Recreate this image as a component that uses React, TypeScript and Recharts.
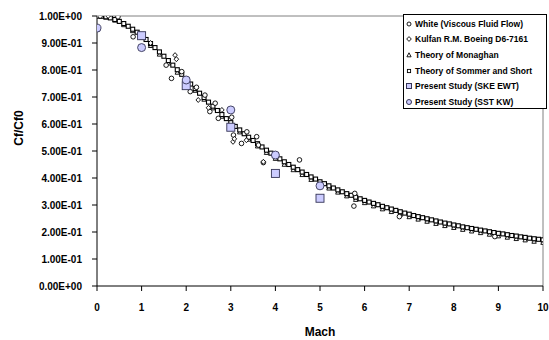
import React from 'react';
import { ScatterChart, Scatter, XAxis, YAxis, ReferenceLine, Legend } from 'recharts';

// Theory of Sommer and Short, every 0.1 Mach from 0 to 10
const sommerMach = [
  0, 0.1, 0.2, 0.3, 0.4, 0.5, 0.6, 0.7, 0.8, 0.9, 1, 1.1, 1.2, 1.3, 1.4, 1.5, 1.6, 1.7, 1.8, 1.9,
  2, 2.1, 2.2, 2.3, 2.4, 2.5, 2.6, 2.7, 2.8, 2.9, 3, 3.1, 3.2, 3.3, 3.4, 3.5, 3.6, 3.7, 3.8, 3.9,
  4, 4.1, 4.2, 4.3, 4.4, 4.5, 4.6, 4.7, 4.8, 4.9, 5, 5.1, 5.2, 5.3, 5.4, 5.5, 5.6, 5.7, 5.8, 5.9,
  6, 6.1, 6.2, 6.3, 6.4, 6.5, 6.6, 6.7, 6.8, 6.9, 7, 7.1, 7.2, 7.3, 7.4, 7.5, 7.6, 7.7, 7.8, 7.9,
  8, 8.1, 8.2, 8.3, 8.4, 8.5, 8.6, 8.7, 8.8, 8.9, 9, 9.1, 9.2, 9.3, 9.4, 9.5, 9.6, 9.7, 9.8, 9.9, 10,
];
const sommerCf = [
  1.0, 0.999, 0.997, 0.993, 0.987, 0.98, 0.972, 0.962, 0.951, 0.94, 0.927, 0.913, 0.898, 0.883, 0.867, 0.851, 0.835, 0.818, 0.801, 0.784,
  0.765, 0.748, 0.731, 0.714, 0.698, 0.681, 0.666, 0.65, 0.635, 0.62, 0.605, 0.591, 0.578, 0.564, 0.551, 0.539, 0.527, 0.515, 0.503, 0.492,
  0.482, 0.471, 0.46, 0.45, 0.44, 0.431, 0.422, 0.413, 0.404, 0.396, 0.386, 0.379, 0.371, 0.363, 0.356, 0.349, 0.342, 0.336, 0.329, 0.323,
  0.317, 0.311, 0.306, 0.301, 0.295, 0.29, 0.285, 0.28, 0.275, 0.27, 0.266, 0.261, 0.257, 0.253, 0.249, 0.245, 0.241, 0.237, 0.233, 0.23,
  0.226, 0.223, 0.219, 0.216, 0.213, 0.21, 0.207, 0.204, 0.201, 0.198, 0.195, 0.193, 0.19, 0.187, 0.185, 0.182, 0.18, 0.177, 0.175, 0.173, 0.171,
];

// Theory of Monaghan, every 0.2 Mach
const monaghanMach = [
  0, 0.2, 0.4, 0.6, 0.8, 1, 1.2, 1.4, 1.6, 1.8, 2, 2.2, 2.4, 2.6, 2.8, 3, 3.2, 3.4, 3.6, 3.8,
  4, 4.2, 4.4, 4.6, 4.8, 5, 5.2, 5.4, 5.6, 5.8, 6, 6.2, 6.4, 6.6, 6.8, 7, 7.2, 7.4, 7.6, 7.8,
  8, 8.2, 8.4, 8.6, 8.8, 9, 9.2, 9.4, 9.6, 9.8, 10,
];
const monaghanCf = [
  1.0, 0.995, 0.984, 0.967, 0.945, 0.92, 0.89, 0.858, 0.825, 0.791, 0.757, 0.724, 0.691, 0.659, 0.628, 0.598, 0.57, 0.543, 0.518, 0.494,
  0.472, 0.45, 0.43, 0.412, 0.394, 0.377, 0.362, 0.347, 0.333, 0.32, 0.308, 0.296, 0.285, 0.275, 0.265, 0.256, 0.247, 0.239, 0.231, 0.223,
  0.216, 0.209, 0.203, 0.197, 0.191, 0.185, 0.18, 0.175, 0.17, 0.165, 0.161,
];

// White (Viscous Fluid Flow)
const whiteMach = [0.07, 0.47, 0.81, 1.55, 1.67, 1.9, 2.09, 2.23, 2.42, 2.53, 2.65, 2.72, 3.02, 3.06, 3.24, 3.36, 3.58, 3.62, 3.73, 4.54, 5.76, 5.78, 6.78, 8.92];
const whiteCf = [1.0, 0.997, 0.923, 0.818, 0.769, 0.794, 0.72, 0.736, 0.707, 0.646, 0.677, 0.621, 0.625, 0.559, 0.528, 0.571, 0.553, 0.522, 0.457, 0.467, 0.296, 0.343, 0.257, 0.183];

// Kulfan R.M. Boeing D6-7161
const kulfanMach = [0.25, 1.2, 1.75, 1.78, 2.27, 2.5, 2.8, 3.05, 3.08, 3.35, 3.73];
const kulfanCf = [1.0, 0.9, 0.855, 0.84, 0.689, 0.66, 0.652, 0.534, 0.545, 0.54, 0.46];

// Present Study (SKE EWT)
const skeMach = [1, 2, 3, 4, 5];
const skeCf = [0.927, 0.742, 0.588, 0.417, 0.325];

// Present Study (SST KW)
const sstMach = [0, 1, 2, 3, 4, 5];
const sstCf = [0.955, 0.883, 0.763, 0.652, 0.485, 0.371];

const xTicks = [0, 1, 2, 3, 4, 5, 6, 7, 8, 9, 10];
const yTicks = [0, 0.1, 0.2, 0.3, 0.4, 0.5, 0.6, 0.7, 0.8, 0.9, 1];

const pairs = (xs: number[], ys: number[]) => xs.map((x, i) => ({ x, y: ys[i] }));

const sommerData = pairs(sommerMach, sommerCf);
const monaghanData = pairs(monaghanMach, monaghanCf);
const whiteData = pairs(whiteMach, whiteCf);
const kulfanData = pairs(kulfanMach, kulfanCf);
const skeData = pairs(skeMach, skeCf);
const sstData = pairs(sstMach, sstCf);

const LAV = '#CCCCFF';
const LAV_EDGE = '#333355';

const fmtSci = (v: number) => {
  if (v === 0) return '0.00E+00';
  if (v >= 1) return v.toFixed(2) + 'E+00';
  return (v * 10).toFixed(2) + 'E-01';
};

const SmallSquare = (p: any) => <rect x={p.cx - 2} y={p.cy - 2} width={4} height={4} fill="#fff" stroke="#000" strokeWidth={1.1} />;
const Tri = (p: any) => <path d={`M${p.cx},${p.cy - 2.4}L${p.cx + 2.2},${p.cy + 1.8}L${p.cx - 2.2},${p.cy + 1.8}Z`} fill="#fff" stroke="#000" strokeWidth={0.9} />;
const OpenCircle = (p: any) => <circle cx={p.cx} cy={p.cy} r={2.3} fill="#fff" stroke="#000" strokeWidth={0.9} />;
const Diamond = (p: any) => <path d={`M${p.cx},${p.cy - 2.5}L${p.cx + 2.3},${p.cy}L${p.cx},${p.cy + 2.5}L${p.cx - 2.3},${p.cy}Z`} fill="#fff" stroke="#000" strokeWidth={0.9} />;
const LavSquare = (p: any) => <rect x={p.cx - 4} y={p.cy - 4} width={8} height={8} fill={LAV} stroke={LAV_EDGE} strokeWidth={0.9} />;
const LavCircle = (p: any) => <circle cx={p.cx} cy={p.cy} r={4} fill={LAV} stroke={LAV_EDGE} strokeWidth={0.9} />;

const legendRows = [
  { name: 'White (Viscous Fluid Flow)', icon: 'circle' },
  { name: 'Kulfan R.M. Boeing D6-7161', icon: 'diamond' },
  { name: 'Theory of Monaghan', icon: 'triangle' },
  { name: 'Theory of Sommer and Short', icon: 'square' },
  { name: 'Present Study (SKE EWT)', icon: 'lavSquare' },
  { name: 'Present Study (SST KW)', icon: 'lavCircle' },
];

const LegendIcon = ({ kind }: { kind: string }) => {
  const c = 4;
  return (
    <svg width={8} height={8} style={{ display: 'block' }}>
      {kind === 'circle' && <circle cx={c} cy={c} r={2} fill="#fff" stroke="#000" strokeWidth={0.9} />}
      {kind === 'diamond' && <path d="M4,1.6L6.3,4L4,6.4L1.7,4Z" fill="#fff" stroke="#000" strokeWidth={0.9} />}
      {kind === 'triangle' && <path d="M4,1.8L6.1,5.8L1.9,5.8Z" fill="#fff" stroke="#000" strokeWidth={0.9} />}
      {kind === 'square' && <rect x={2.4} y={2.4} width={3.2} height={3.2} fill="#fff" stroke="#000" strokeWidth={0.9} />}
      {kind === 'lavSquare' && <rect x={1.5} y={1.5} width={5} height={5} fill={LAV} stroke={LAV_EDGE} strokeWidth={1} />}
      {kind === 'lavCircle' && <circle cx={c} cy={c} r={2.5} fill={LAV} stroke={LAV_EDGE} strokeWidth={1} />}
    </svg>
  );
};

const LegendBox = () => (
  <div style={{ boxSizing: 'border-box', width: 144, height: 95, border: '1px solid #000', background: '#fff', paddingTop: 1 }}>
    {legendRows.map((r) => (
      <div key={r.name} style={{ display: 'flex', alignItems: 'center', height: 15.6, paddingLeft: 1 }}>
        <LegendIcon kind={r.icon} />
        <span style={{ marginLeft: 2, fontSize: 8.5, fontWeight: 'bold', fontFamily: 'Arial, "Liberation Sans", sans-serif', color: '#000', whiteSpace: 'nowrap' }}>
          {r.name}
        </span>
      </div>
    ))}
  </div>
);

export default function App() {
  return (
    <div style={{ width: 549, height: 340, background: '#fff', fontFamily: 'Arial, "Liberation Sans", sans-serif', overflow: 'hidden' }}>
      <style>{'body{margin:0}'}</style>
      <ScatterChart width={549} height={340} margin={{ top: 16, right: 6, bottom: 0, left: 0 }}>
        <XAxis
          type="number"
          dataKey="x"
          domain={[0, 10]}
          ticks={xTicks}
          allowDataOverflow
          height={54}
          stroke="#000"
          tickSize={5}
          tickMargin={13}
          tick={{ fill: '#000', fontSize: 10, fontWeight: 'bold' }}
          label={(props: any) => {
            const vb = props.viewBox || { x: 97, width: 446 };
            return (
              <text x={vb.x + vb.width / 2} y={336} textAnchor="middle" fontSize={12} fontWeight="bold" fill="#000">
                Mach
              </text>
            );
          }}
        />
        <YAxis
          type="number"
          dataKey="y"
          domain={[0, 1]}
          ticks={yTicks}
          allowDataOverflow
          width={97}
          stroke="#000"
          tickSize={5}
          tickMargin={10}
          tickFormatter={fmtSci}
          tick={{ fill: '#000', fontSize: 10, fontWeight: 'bold' }}
          label={() => (
            <text x={18.5} y={128} transform="rotate(-90 18.5 128)" textAnchor="middle" dominantBaseline="central" fontSize={12} fontWeight="bold" fill="#000">
              Cf/Cf0
            </text>
          )}
        />
        <ReferenceLine y={1} stroke="#808080" strokeWidth={1} />
        <ReferenceLine x={10} stroke="#808080" strokeWidth={1} />
        <Scatter name="Theory of Monaghan" data={monaghanData} shape={Tri} isAnimationActive={false} />
        <Scatter name="Theory of Sommer and Short" data={sommerData} shape={SmallSquare} isAnimationActive={false} />
        <Scatter name="White (Viscous Fluid Flow)" data={whiteData} shape={OpenCircle} isAnimationActive={false} />
        <Scatter name="Kulfan R.M. Boeing D6-7161" data={kulfanData} shape={Diamond} isAnimationActive={false} />
        <Scatter name="Present Study (SKE EWT)" data={skeData} shape={LavSquare} isAnimationActive={false} />
        <Scatter name="Present Study (SST KW)" data={sstData} shape={LavCircle} isAnimationActive={false} />
        <Legend
          layout="vertical"
          align="center"
          verticalAlign="middle"
          content={() => <LegendBox />}
          wrapperStyle={{ position: 'absolute', left: 403, top: 14, width: 144, height: 95 }}
        />
      </ScatterChart>
    </div>
  );
}
